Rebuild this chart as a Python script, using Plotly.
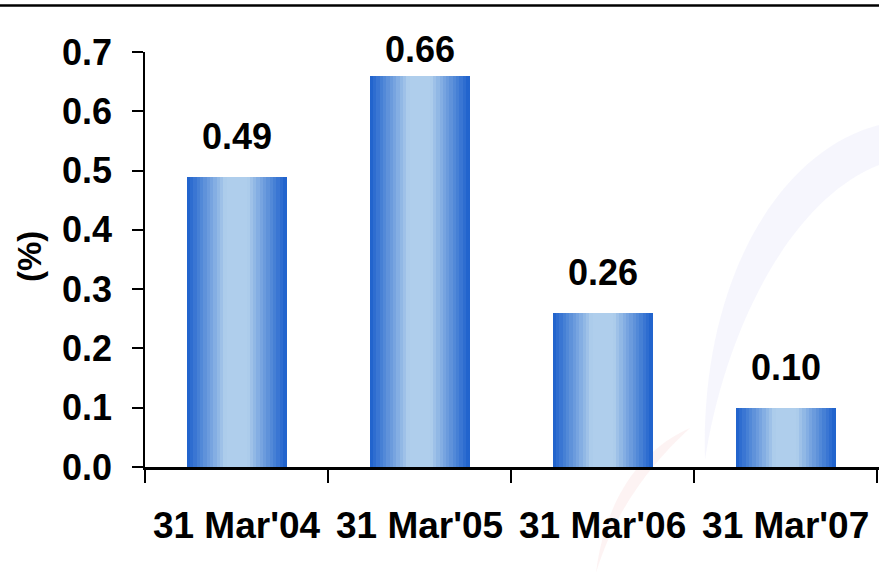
import plotly.graph_objects as go

# Data
categories = ["31 Mar'04", "31 Mar'05", "31 Mar'06", "31 Mar'07"]
values = [0.49, 0.66, 0.26, 0.10]
value_labels = ["0.49", "0.66", "0.26", "0.10"]
y_ticks = [0.0, 0.1, 0.2, 0.3, 0.4, 0.5, 0.6, 0.7]
y_tick_labels = ["0.0", "0.1", "0.2", "0.3", "0.4", "0.5", "0.6", "0.7"]

W, H = 879, 573
ML, MR, MT, MB = 145, 0, 52, 106
PW, PH = W - ML - MR, H - MT - MB

FONT = "Liberation Sans, Arial, sans-serif"

EDGE = (28, 96, 204)
MID = (175, 206, 236)

BAR_W = 0.545
N_STRIPS = 30


def strip_color(frac):
    # horizontal cylinder shading: dark edges, light flat centre
    d = abs(frac - 0.5) * 2
    t = max(0.0, (d - 0.22) / 0.78)
    t = t ** 0.95
    r, g, b = (round(MID[i] + (EDGE[i] - MID[i]) * t) for i in range(3))
    return f"rgb({r},{g},{b})"


fig = go.Figure()
sw = BAR_W / N_STRIPS
for k in range(N_STRIPS):
    frac = (k + 0.5) / N_STRIPS
    fig.add_trace(go.Bar(
        x=categories, y=values,
        width=sw * 1.04, offset=-BAR_W / 2 + k * sw,
        marker=dict(color=strip_color(frac), line=dict(width=0)),
        hoverinfo="skip", showlegend=False,
    ))


def px_to_paper(px, py):
    return (px - ML) / PW, (H - MB - py) / PH


# faint background emblem arcs
def arc_path(points):
    pts = [px_to_paper(x, y) for x, y in points]
    d = f"M {pts[0][0]},{pts[0][1]}"
    for i in range(1, len(pts) - 2, 3):
        a, b, c = pts[i], pts[i + 1], pts[i + 2]
        d += f" C {a[0]},{a[1]} {b[0]},{b[1]} {c[0]},{c[1]}"
    return d + " Z"


shapes = [
    dict(type="path", xref="paper", yref="paper", layer="below",
         path=arc_path([(879, 125), (780, 150), (700, 280), (705, 460),
                        (725, 330), (790, 200), (879, 165)]),
         fillcolor="rgba(232,232,250,0.4)", line=dict(width=0)),
    dict(type="path", xref="paper", yref="paper", layer="below",
         path=arc_path([(690, 428), (640, 450), (605, 500), (596, 573),
                        (615, 510), (650, 465), (690, 428)]),
         fillcolor="rgba(250,222,222,0.35)", line=dict(width=0)),
    # rule across the top of the slide
    dict(type="line", xref="paper", yref="paper",
         x0=px_to_paper(0, 0)[0], x1=1.0,
         y0=px_to_paper(0, 5.5)[1], y1=px_to_paper(0, 5.5)[1],
         line=dict(color="black", width=2.5)),
]

annotations = []
top_px = 50  # highest label centre, in pixels from the top
for cat, v, lab in zip(categories, values, value_labels):
    bar_top_px = MT + PH * (1 - v / 0.7)
    shift = min(40, bar_top_px - top_px)
    annotations.append(dict(
        x=cat, y=v, xref="x", yref="y", yshift=shift,
        text=f"<b>{lab}</b>", showarrow=False, yanchor="middle",
        font=dict(family=FONT, size=36, color="black"),
    ))

annotations.append(dict(
    x=px_to_paper(29, 0)[0], y=px_to_paper(0, 257)[1], xref="paper", yref="paper",
    text="<b>(%)</b>", textangle=-90, showarrow=False,
    xanchor="center", yanchor="middle",
    font=dict(family=FONT, size=33, color="black"),
))

fig.update_layout(
    width=W, height=H,
    margin=dict(l=ML, r=MR, t=MT, b=MB, pad=0, autoexpand=False),
    paper_bgcolor="white", plot_bgcolor="rgba(0,0,0,0)",
    barmode="overlay", bargap=0,
    shapes=shapes, annotations=annotations,
    xaxis=dict(
        type="category", range=[-0.5, 3.51],
        showline=True, linecolor="black", linewidth=2.5,
        ticks="outside", ticklen=13, tickwidth=1.5, tickcolor="black",
        tickson="boundaries", ticklabelstandoff=24, tickangle=0,
        automargin=False,
        tickvals=categories, ticktext=[f"<b>{c}</b>" for c in categories],
        tickfont=dict(family=FONT, size=37, color="black"),
        showgrid=False, zeroline=False, fixedrange=True,
    ),
    yaxis=dict(
        range=[0, 0.7], tickvals=y_ticks,
        ticktext=[f"<b>{t}</b>" for t in y_tick_labels],
        showline=True, linecolor="black", linewidth=1.5,
        ticks="outside", ticklen=11, tickwidth=1.5, tickcolor="black",
        ticklabelstandoff=13, automargin=False,
        tickfont=dict(family=FONT, size=36, color="black"),
        showgrid=False, zeroline=False, fixedrange=True,
    ),
)

fig.write_html("out.html")
